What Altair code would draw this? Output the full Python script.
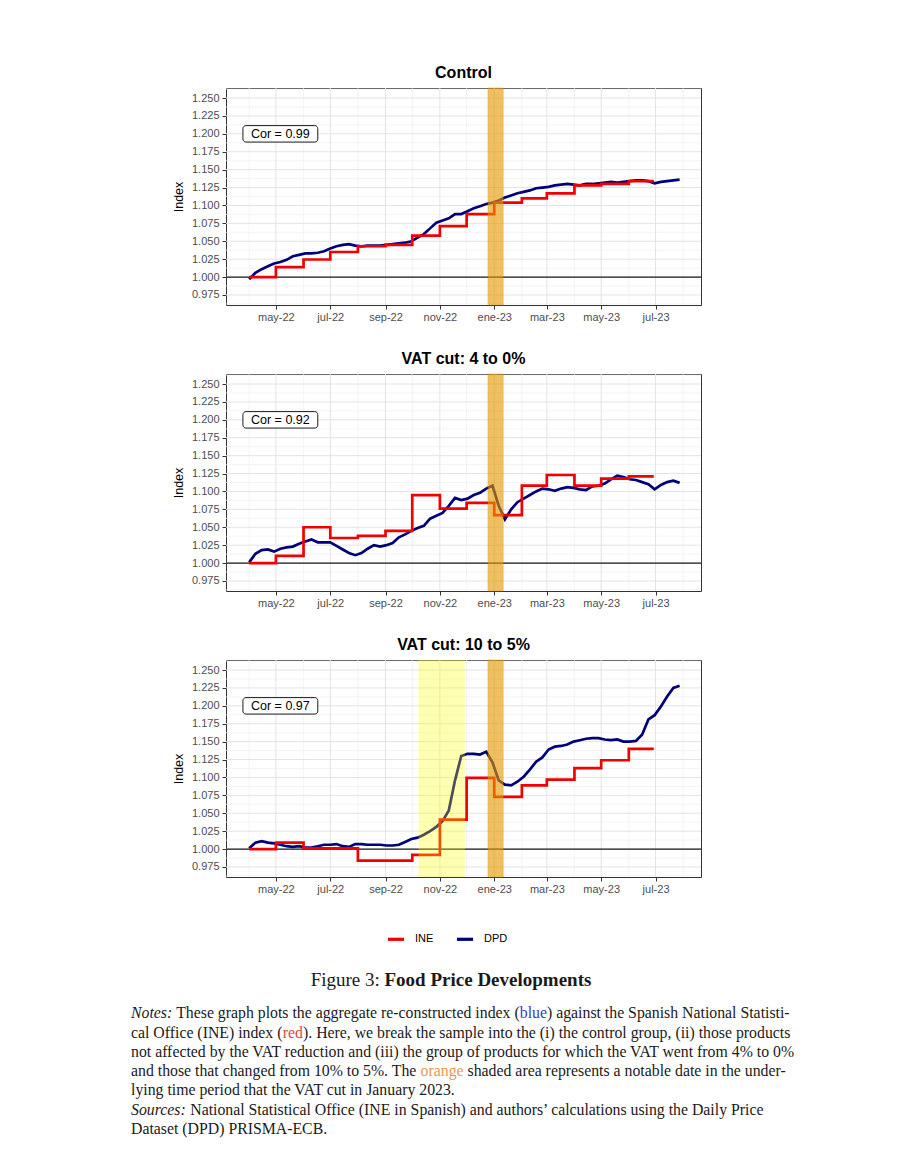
import altair as alt
import pandas as pd

# ---------------- data ----------------
week_dates = pd.date_range("2022-04-01", periods=70, freq="7D").strftime("%Y-%m-%d").tolist()

dpd_control = [0.997, 1.006, 1.011, 1.015, 1.019, 1.021, 1.024, 1.029, 1.031, 1.033,
               1.033, 1.034, 1.036, 1.040, 1.043, 1.045, 1.046, 1.044, 1.043, 1.044,
               1.044, 1.044, 1.045, 1.046, 1.047, 1.048, 1.050, 1.055, 1.060, 1.068,
               1.076, 1.079, 1.082, 1.088, 1.088, 1.092, 1.096, 1.099, 1.102, 1.104,
               1.107, 1.111, 1.114, 1.117, 1.119, 1.121, 1.124, 1.125, 1.126, 1.128,
               1.129, 1.130, 1.129, 1.128, 1.130, 1.130, 1.131, 1.132, 1.133, 1.132,
               1.133, 1.134, 1.135, 1.135, 1.134, 1.131, 1.133, 1.134, 1.135, 1.136]

dpd_vat4 = [1.001, 1.013, 1.018, 1.019, 1.016, 1.020, 1.022, 1.023, 1.027, 1.030,
            1.033, 1.029, 1.029, 1.029, 1.024, 1.019, 1.014, 1.011, 1.014, 1.020,
            1.025, 1.023, 1.025, 1.028, 1.036, 1.040, 1.045, 1.049, 1.052, 1.062,
            1.066, 1.070, 1.080, 1.091, 1.088, 1.090, 1.095, 1.098, 1.104, 1.108,
            1.080, 1.061, 1.075, 1.085, 1.090, 1.095, 1.100, 1.104, 1.103, 1.101,
            1.104, 1.106, 1.105, 1.103, 1.102, 1.107, 1.108, 1.111, 1.117, 1.122,
            1.120, 1.117, 1.116, 1.113, 1.110, 1.103, 1.109, 1.113, 1.115, 1.112]

dpd_vat10 = [1.001, 1.009, 1.011, 1.009, 1.008, 1.006, 1.004, 1.003, 1.004, 1.002,
             1.002, 1.004, 1.006, 1.006, 1.007, 1.004, 1.003, 1.007, 1.007, 1.006,
             1.006, 1.006, 1.005, 1.005, 1.006, 1.010, 1.014, 1.016, 1.020, 1.025,
             1.031, 1.039, 1.054, 1.096, 1.130, 1.133, 1.133, 1.132, 1.136, 1.121,
             1.096, 1.090, 1.089, 1.094, 1.101, 1.111, 1.122, 1.128, 1.139, 1.143,
             1.144, 1.146, 1.150, 1.152, 1.154, 1.155, 1.155, 1.153, 1.152, 1.153,
             1.150, 1.150, 1.151, 1.160, 1.181, 1.187, 1.199, 1.213, 1.225, 1.228]

ine_dates = ["2022-04-01", "2022-05-01", "2022-06-01", "2022-07-01", "2022-08-01", "2022-09-01",
             "2022-10-01", "2022-11-01", "2022-12-01", "2023-01-01", "2023-02-01", "2023-03-01",
             "2023-04-01", "2023-05-01", "2023-06-01", "2023-06-29"]
ine_control = [1.000, 1.014, 1.0245, 1.035, 1.043, 1.045, 1.058, 1.071, 1.088, 1.104,
               1.110, 1.117, 1.128, 1.130, 1.134, 1.134]
ine_vat4 = [1.000, 1.010, 1.050, 1.035, 1.038, 1.045, 1.095, 1.076, 1.084, 1.067,
            1.108, 1.123, 1.108, 1.118, 1.121, 1.121]
ine_vat10 = [1.000, 1.009, 1.001, 1.001, 0.984, 0.984, 0.992, 1.041, 1.0995, 1.073,
             1.089, 1.097, 1.113, 1.124, 1.140, 1.140]

panel_titles = ["Control", "VAT cut: 4 to 0%", "VAT cut: 10 to 5%"]
cor_labels = ["Cor = 0.99", "Cor = 0.92", "Cor = 0.97"]
series_names = ["INE", "DPD"]

vat_band = ["2022-12-25", "2023-01-11"]
pre_band = ["2022-10-08", "2022-11-29"]

x_major = ["2022-05-01", "2022-07-01", "2022-09-01", "2022-11-01", "2023-01-01",
           "2023-03-01", "2023-05-01", "2023-07-01"]
x_minor = ["2022-04-01", "2022-06-01", "2022-08-01", "2022-10-01", "2022-12-01",
           "2023-02-01", "2023-04-01", "2023-06-01", "2023-08-01"]
y_major = [0.975, 1.000, 1.025, 1.050, 1.075, 1.100, 1.125, 1.150, 1.175, 1.200, 1.225, 1.250]
y_minor = [0.9625, 0.9875, 1.0125, 1.0375, 1.0625, 1.0875, 1.1125, 1.1375, 1.1625,
           1.1875, 1.2125, 1.2375, 1.2625]

# label box (data coordinates)
cor_box_x = ["2022-03-25", "2022-06-17"]
cor_text_x = "2022-05-06"
cor_box_y = [1.1885, 1.2115]
cor_text_y = 1.200

# ---------------- styling ----------------
SANS = "Liberation Sans"
SERIF = "Liberation Serif"
W, H = 475, 217
RED = "#F00000"
NAVY = "#00007A"
LW = 2.7


def dt(s):
    return alt.DateTime(year=int(s[:4]), month=int(s[5:7]), date=int(s[8:10]), utc=True)


X_DOMAIN = [dt("2022-03-06"), dt("2023-08-21")]
Y_DOMAIN = [0.961, 1.264]

month_expr = ("['ene','feb','mar','abr','may','jun','jul','ago','sep','oct','nov','dic']"
              "[utcmonth(datum.value)] + '-' + utcFormat(datum.value, '%y')")

x_axis = alt.Axis(values=[dt(s) for s in x_major], labelExpr=month_expr, title=None,
                  grid=False, domain=False, ticks=True, tickColor="#333333", tickSize=4,
                  labelColor="#4D4D4D", labelFont=SANS, labelFontSize=11, labelPadding=2)
y_axis = alt.Axis(values=y_major, format=".3f", title="Index", grid=False, domain=False,
                  tickColor="#333333", tickSize=4, labelColor="#4D4D4D", labelFont=SANS,
                  labelFontSize=11, labelPadding=3, titleFont=SANS, titleFontSize=12.5,
                  titleFontWeight="normal", titleColor="black", titlePadding=6)


def X(field):
    return alt.X(f"{field}:T", scale=alt.Scale(type="utc", domain=X_DOMAIN), axis=x_axis)


def Y(field):
    return alt.Y(f"{field}:Q", scale=alt.Scale(domain=Y_DOMAIN, nice=False, zero=False), axis=y_axis)


color_scale = alt.Scale(domain=series_names, range=[RED, NAVY])


def panel(title, dpd_vals, ine_vals, cor, yellow=False, legend=None, extra=None):
    dpd_df = pd.DataFrame({"date": week_dates, "value": dpd_vals, "series": "DPD"})
    ine_df = pd.DataFrame({"date": ine_dates, "value": ine_vals, "series": "INE"})

    layers = [
        alt.Chart(pd.DataFrame({"date": x_minor})).mark_rule(color="#EFEFEF", strokeWidth=0.7).encode(x=X("date")),
        alt.Chart(pd.DataFrame({"v": y_minor})).mark_rule(color="#EFEFEF", strokeWidth=0.7).encode(y=Y("v")),
        alt.Chart(pd.DataFrame({"date": x_major})).mark_rule(color="#E3E3E3", strokeWidth=1).encode(x=X("date")),
        alt.Chart(pd.DataFrame({"v": y_major})).mark_rule(color="#E3E3E3", strokeWidth=1).encode(y=Y("v")),
        alt.Chart(pd.DataFrame({"v": [1.0]})).mark_rule(color="#1A1A1A", strokeWidth=1.3).encode(y=Y("v")),
        alt.Chart(dpd_df).mark_line(strokeWidth=LW).encode(
            x=X("date"), y=Y("value"),
            color=alt.Color("series:N", scale=color_scale, legend=legend)),
        alt.Chart(ine_df).mark_line(strokeWidth=LW, interpolate="step-after").encode(
            x=X("date"), y=Y("value"),
            color=alt.Color("series:N", scale=color_scale, legend=legend)),
    ]
    if yellow:
        layers.append(
            alt.Chart(pd.DataFrame({"start": [pre_band[0]], "end": [pre_band[1]]}))
            .mark_rect(color="#FFFF00", opacity=0.3)
            .encode(x=X("start"), x2="end:T"))
    layers.append(
        alt.Chart(pd.DataFrame({"start": [vat_band[0]], "end": [vat_band[1]]}))
        .mark_rect(color="#E69A00", opacity=0.62, stroke="#C88400", strokeWidth=0.8, strokeOpacity=0.8)
        .encode(x=X("start"), x2="end:T"))
    layers.append(
        alt.Chart(pd.DataFrame({"x0": [cor_box_x[0]], "x1": [cor_box_x[1]],
                                "y0": [cor_box_y[0]], "y1": [cor_box_y[1]]}))
        .mark_rect(fill="white", stroke="#1A1A1A", strokeWidth=1, cornerRadius=3)
        .encode(x=X("x0"), x2="x1:T", y=Y("y0"), y2="y1:Q"))
    layers.append(
        alt.Chart(pd.DataFrame({"d": [cor_text_x], "v": [cor_text_y], "t": [cor]}))
        .mark_text(font=SANS, fontSize=12.5, color="black", align="center", baseline="middle")
        .encode(x=X("d"), y=Y("v"), text="t:N"))
    if extra:
        layers.extend(extra)
    return alt.layer(*layers).properties(
        width=W, height=H,
        title=alt.TitleParams(title, font=SANS, fontSize=16, fontWeight="bold", color="black",
                              anchor="middle", offset=7))


# ---------------- caption and notes (serif text below the figure) ----------------
_up = "ABCDEFGHIJKLMNOPQRSTUVWXYZ"
_lo = "abcdefghijklmnopqrstuvwxyz"
REG = dict(zip(_up, [722, 667, 667, 722, 611, 556, 722, 722, 333, 389, 722, 611, 889, 722, 722,
                     556, 722, 667, 556, 611, 722, 722, 944, 722, 722, 611]))
REG.update(dict(zip(_lo, [444, 500, 444, 500, 444, 333, 500, 500, 278, 278, 500, 278, 778, 500,
                          500, 500, 500, 333, 389, 278, 500, 500, 722, 500, 500, 444])))
REG.update({" ": 250, "%": 833, "(": 333, ")": 333, ",": 250, "-": 333, ".": 250, ":": 278,
            "\u2019": 333})
REG.update({d: 500 for d in "0123456789"})
ITAL = dict(REG)
ITAL.update({"N": 667, "S": 500, "r": 389, ":": 333, "c": 444})
BOLD = dict(REG)
BOLD.update(dict(zip(_up, [722, 667, 722, 722, 667, 611, 778, 778, 389, 500, 778, 667, 944, 722,
                           778, 611, 778, 722, 556, 667, 722, 722, 1000, 722, 722, 667])))
BOLD.update(dict(zip(_lo, [500, 556, 444, 556, 444, 333, 500, 556, 278, 333, 556, 278, 833, 556,
                           500, 556, 556, 444, 389, 333, 556, 500, 722, 500, 500, 444])))
BOLD.update({":": 333})


def width(s, table, size):
    return sum(table.get(c, 500) for c in s) * size / 1000.0


ORIGIN_X, ORIGIN_Y = 225, 663  # page position of the last panel's plot area

caption_fs = 19
cap_a, cap_b = "Figure 3:", "Food Price Developments"
cap_total = width(cap_a + " ", REG, caption_fs) + width(cap_b, BOLD, caption_fs)
cap_x0 = 450 - ORIGIN_X - cap_total / 2
cap_y = 983 - ORIGIN_Y

notes_fs = 15.8
notes_x0 = 130 - ORIGIN_X
notes_y = [1016, 1036, 1055, 1074, 1093, 1113, 1132]
BLACK, BLUE_W, RED_W, ORANGE_W = "#1A1A1A", "#3A3AC0", "#E0443C", "#E39A52"
notes_lines = [
    [("Notes:", "italic", BLACK), (" These graph plots the aggregate re-constructed index (", "normal", BLACK),
     ("blue", "normal", BLUE_W), (") against the Spanish National Statisti-", "normal", BLACK)],
    [("cal Office (INE) index (", "normal", BLACK), ("red", "normal", RED_W),
     ("). Here, we break the sample into the (i) the control group, (ii) those products", "normal", BLACK)],
    [("not affected by the VAT reduction and (iii) the group of products for which the VAT went from 4% to 0%",
      "normal", BLACK)],
    [("and those that changed from 10% to 5%. The ", "normal", BLACK), ("orange", "normal", ORANGE_W),
     (" shaded area represents a notable date in the under-", "normal", BLACK)],
    [("lying time period that the VAT cut in January 2023.", "normal", BLACK)],
    [("Sources:", "italic", BLACK),
     (" National Statistical Office (INE in Spanish) and authors\u2019 calculations using the Daily Price",
      "normal", BLACK)],
    [("Dataset (DPD) PRISMA-ECB.", "normal", BLACK)],
]

text_layers = [
    alt.Chart(pd.DataFrame({"t": [cap_a]})).mark_text(
        font=SERIF, fontSize=caption_fs, align="left", baseline="middle", color=BLACK)
    .encode(x=alt.value(cap_x0), y=alt.value(cap_y), text="t:N"),
    alt.Chart(pd.DataFrame({"t": [cap_b]})).mark_text(
        font=SERIF, fontSize=caption_fs, fontWeight="bold", align="left", baseline="middle", color=BLACK)
    .encode(x=alt.value(cap_x0 + width(cap_a + " ", REG, caption_fs)), y=alt.value(cap_y), text="t:N"),
]
for line, ly in zip(notes_lines, notes_y):
    cx = notes_x0
    for seg, style, col in line:
        table = ITAL if style == "italic" else REG
        lead = len(seg) - len(seg.lstrip(" "))
        sx = cx + width(" " * lead, table, notes_fs)
        text_layers.append(
            alt.Chart(pd.DataFrame({"t": [seg.strip(" ")]})).mark_text(
                font=SERIF, fontSize=notes_fs, fontStyle=style, align="left", baseline="middle", color=col)
            .encode(x=alt.value(sx), y=alt.value(ly - ORIGIN_Y), text="t:N"))
        cx += width(seg, table, notes_fs)

legend = alt.Legend(orient="none", legendX=160, legendY=269, direction="horizontal", title=None,
                    symbolType="stroke", symbolStrokeWidth=3.2, symbolSize=260, labelFont=SANS,
                    labelFontSize=11, labelColor="black", columnPadding=16, labelOffset=9)

p1 = panel(panel_titles[0], dpd_control, ine_control, cor_labels[0])
p2 = panel(panel_titles[1], dpd_vat4, ine_vat4, cor_labels[1])
p3 = panel(panel_titles[2], dpd_vat10, ine_vat10, cor_labels[2], yellow=True, legend=legend,
           extra=text_layers)

chart = (
    alt.vconcat(p1, p2, p3, spacing=27)
    .resolve_scale(color="independent")
    .resolve_legend(color="independent")
    .properties(padding={"left": 122, "top": 56, "right": 5, "bottom": 5}, background="white")
    .configure_view(stroke="#333333", strokeWidth=1)
)

chart.save("out.html", embed_options={"renderer": "svg", "actions": False})
